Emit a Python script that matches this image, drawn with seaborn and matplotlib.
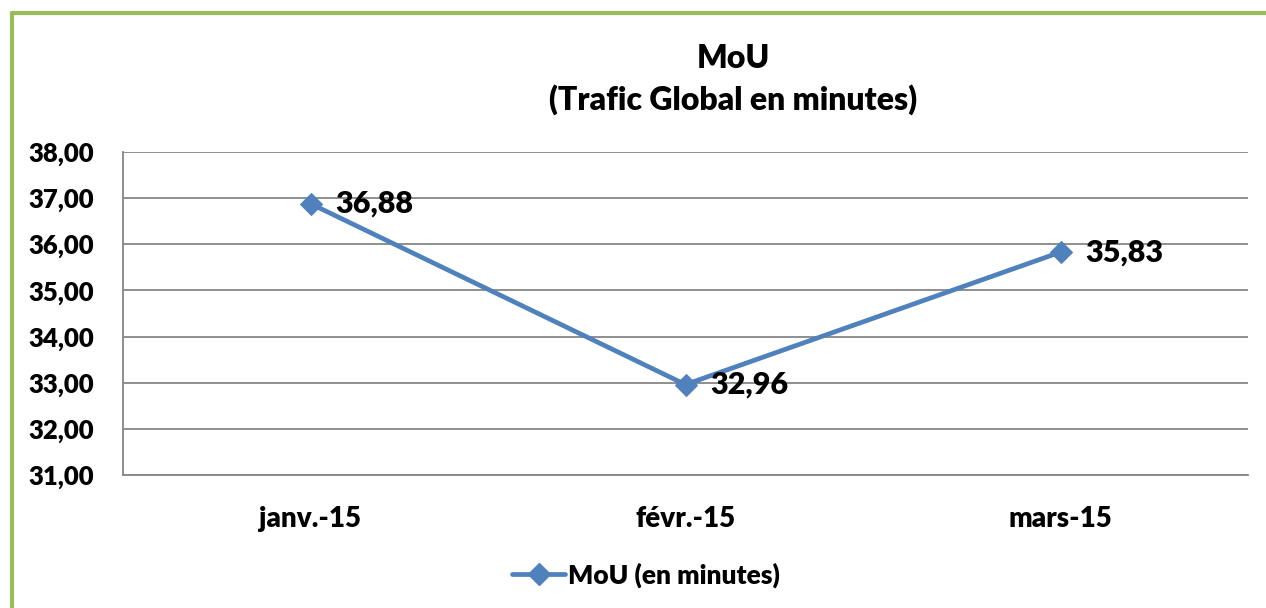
import pandas as pd
import matplotlib
matplotlib.use("Agg")
import matplotlib.pyplot as plt
from matplotlib.lines import Line2D
import seaborn as sns

mois = ["janv.-15", "févr.-15", "mars-15"]
mou = [36.88, 32.96, 35.83]
etiquettes = ["36,88", "32,96", "35,83"]
yticks = [31, 32, 33, 34, 35, 36, 37, 38]

sns.set_style("white")
plt.rcParams["font.family"] = ["Lato", "DejaVu Sans"]
W = "heavy"
plt.rcParams["font.weight"] = W
plt.rcParams["text.color"] = "black"
plt.rcParams["xtick.labelcolor"] = "black"
plt.rcParams["ytick.labelcolor"] = "black"

BLUE = "#4F81BD"
GREY = "#868686"
GREEN = "#9BBB59"

df = pd.DataFrame({"mois": mois, "mou": mou})

fig = plt.figure(figsize=(12.66, 6.08), dpi=100)
ax = fig.add_axes([123 / 1266, 1 - 475 / 608, (1248 - 123) / 1266, (475 - 152) / 608])

sns.lineplot(data=df, x="mois", y="mou", ax=ax, color=BLUE, linewidth=3.4,
             marker="D", markersize=11, markeredgecolor=BLUE, sort=False,
             label="MoU (en minutes)", legend=False)

for i, (v, t) in enumerate(zip(mou, etiquettes)):
    ax.annotate(t, (i, v), xytext=(18, 0), textcoords="offset points",
                va="center", ha="left", fontsize=22, fontweight=W, color="black")

ax.set_ylim(31, 38)
ax.set_xlim(-0.5, 2.5)
ax.set_yticks(yticks)
ax.set_yticklabels([f"{t:.2f}".replace(".", ",") for t in yticks], fontsize=18.5, fontweight=W)
ax.set_xticks(range(len(mois)))
ax.set_xticklabels(mois, fontsize=20, fontweight=W)
ax.set_xticks([-0.5, 0.5, 1.5, 2.5], minor=True)
ax.tick_params(axis="x", which="major", length=0, pad=22, labelcolor="black")
ax.tick_params(axis="x", which="minor", length=9, width=1.3, color=GREY, direction="out")
ax.tick_params(axis="y", length=7, width=1.3, color=GREY, direction="out", pad=14,
               labelcolor="black")
ax.set_xlabel("")
ax.set_ylabel("")
ax.grid(axis="y", color=GREY, linewidth=1.3)
ax.set_axisbelow(True)
for s in ["top", "right"]:
    ax.spines[s].set_visible(False)
for s in ["left", "bottom"]:
    ax.spines[s].set_color(GREY)
    ax.spines[s].set_linewidth(1.3)

fig.text(733 / 1266, 1 - 58 / 608, "MoU", ha="center", va="center",
         fontsize=23, fontweight=W, color="black")
fig.text(733 / 1266, 1 - 100 / 608, "(Trafic Global en minutes)", ha="center",
         va="center", fontsize=23, fontweight=W, color="black")

handle = Line2D([], [], color=BLUE, linewidth=3.4, marker="D", markersize=11)
leg = fig.legend([handle], ["MoU (en minutes)"], loc="center",
                 bbox_to_anchor=(646 / 1266, 1 - 575 / 608),
                 frameon=False, handlelength=2.0, handletextpad=0.1,
                 prop={"weight": W, "size": 19})
for t in leg.get_texts():
    t.set_color("black")

# cadre vert (haut et gauche)
fig.add_artist(Line2D([12 / 1266, 12 / 1266], [0, 1 - 13 / 608], transform=fig.transFigure,
                      color=GREEN, linewidth=3))
fig.add_artist(Line2D([12 / 1266, 1], [1 - 13 / 608, 1 - 13 / 608], transform=fig.transFigure,
                      color=GREEN, linewidth=3))

fig.savefig("out.png", dpi=100)
